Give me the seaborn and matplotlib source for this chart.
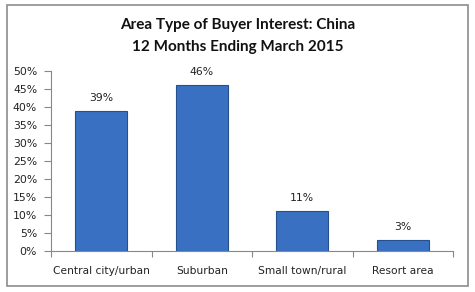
import matplotlib
matplotlib.use("Agg")
import matplotlib.pyplot as plt
import seaborn as sns
import pandas as pd
from matplotlib.patches import Rectangle
from matplotlib.ticker import FixedLocator, PercentFormatter

categories = ["Central city/urban", "Suburban", "Small town/rural", "Resort area"]
values = [39, 46, 11, 3]
title_lines = ["Area Type of Buyer Interest: China", "12 Months Ending March 2015"]

df = pd.DataFrame({"cat": categories, "val": values})

sns.set_theme(style="white")
plt.rcParams["font.family"] = ["DejaVu Sans"]

fig = plt.figure(figsize=(4.75, 2.92), dpi=100)
W, H = 475, 292
ax = fig.add_axes([51 / W, 1 - 251 / H, (453 - 51) / W, (251 - 71) / H])

sns.barplot(data=df, x="cat", y="val", ax=ax, color="#3a70c2", width=0.52,
            edgecolor="#24508f", linewidth=0.8, saturation=1)

ax.set_xlim(-0.5, len(categories) - 0.5)
ax.set_ylim(0, 50)
ax.set_yticks(range(0, 51, 5))
ax.yaxis.set_major_formatter(PercentFormatter(decimals=0))
ax.set_xlabel("")
ax.set_ylabel("")
ax.tick_params(axis="x", which="major", length=0, labelsize=7.7, pad=11, colors="#222222")
ax.xaxis.set_minor_locator(FixedLocator([i - 0.5 for i in range(len(categories) + 1)]))
ax.tick_params(axis="x", which="minor", length=4, width=0.8, color="#888888", direction="out", bottom=True)
ax.tick_params(axis="y", length=5, width=0.8, direction="out", labelsize=7.8,
               left=True, pad=5, colors="#888888", labelcolor="#222222")
for s in ["top", "right"]:
    ax.spines[s].set_visible(False)
for s in ["left", "bottom"]:
    ax.spines[s].set_color("#888888")
    ax.spines[s].set_linewidth(0.8)

for i, v in enumerate(values):
    ax.text(i, v + 2.2, f"{v}%", ha="center", va="bottom", fontsize=7.8, color="#222222")

for k, y in enumerate([25, 47]):
    fig.text(0.5, 1 - y / H, title_lines[k], ha="center", va="center", fontsize=11,
             fontweight="bold", family=["Lato", "DejaVu Sans"], color="#111111")

fig.patches.append(Rectangle((7 / W, 1 - 286 / H), (468 - 7) / W, (286 - 5) / H,
                             transform=fig.transFigure, fill=False, edgecolor="#8c8c8c",
                             linewidth=1.2))

fig.savefig("out.png", dpi=100)
